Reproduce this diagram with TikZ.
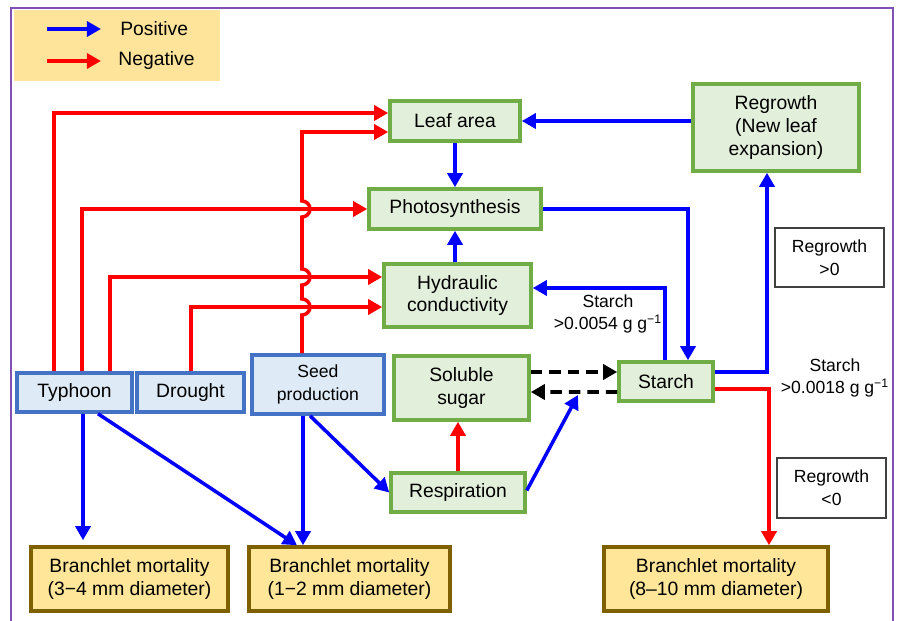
\documentclass[tikz,border=0pt]{standalone}
\usepackage{fontspec}
\setmainfont{Liberation Sans}
\usetikzlibrary{arrows.meta,calc}

\definecolor{procline}{HTML}{70AD47}
\definecolor{procfill}{HTML}{E2EFDA}
\definecolor{drvline}{HTML}{4472C4}
\definecolor{drvfill}{HTML}{DEEBF7}
\definecolor{mortline}{HTML}{7F6000}
\definecolor{mortfill}{HTML}{FFE699}
\definecolor{legendfill}{HTML}{FEE49B}
\definecolor{framecol}{HTML}{8050B4}

\begin{document}
\begin{tikzpicture}[
    x=0.02cm,
    y=-0.02cm,
    >={Triangle[length=8pt,width=8.5pt]},
    box/.style={
      draw,
      line width=2pt,
      align=center,
      inner sep=2pt,
      font=\fontsize{11}{13}\selectfont
    },
    process/.style={box,draw=procline,fill=procfill},
    driver/.style={box,draw=drvline,fill=drvfill},
    mortality/.style={box,draw=mortline,fill=mortfill},
    condition/.style={
      draw=black!75,
      line width=0.8pt,
      align=center,
      font=\fontsize{10}{13}\selectfont
    },
    note/.style={
      align=center,
      inner sep=0pt,
      font=\fontsize{10}{13}\selectfont
    },
    posflow/.style={->,draw=blue,line width=2pt},
    negflow/.style={->,draw=red,line width=2pt},
    feedback/.style={->,line width=2pt,dash pattern=on 6.5pt off 4pt}
  ]
    \useasboundingbox (0,0) rectangle (903,621);
    \draw[framecol,line width=1.3pt] (11,621) -- (11,8) -- (893,8) -- (893,621);

    % legend
    \fill[legendfill] (14,10) rectangle (220,81);
    \coordinate (posa) at (47,29);
    \coordinate (posb) at (101,29);
    \coordinate (nega) at (47,61);
    \coordinate (negb) at (101,61);
    \node[anchor=west,inner sep=0pt,font=\fontsize{11}{13}\selectfont] (poslabel) at (120,29) {Positive};
    \node[anchor=west,inner sep=0pt,font=\fontsize{11}{13}\selectfont] (neglabel) at (118,61) {Negative};
    \draw[posflow] (posa) -- (posb);
    \draw[negflow] (nega) -- (negb);

    \foreach \n/\x/\y/\w/\h/\txt in {leaf/455/121/130/40/{Leaf area},
        photo/455/209/172/40/Photosynthesis,
        hydr/457.5/295.5/147/63/{Hydraulic\\conductivity},
        regrow/776/127.5/166/87/{Regrowth\\(New leaf\\expansion)},
        sugar/461.5/388/135/64/{Soluble\\sugar},
        resp/458/492.5/134/39/Respiration,
        starch/666/381.5/94/39/Starch}
      \node[process,minimum width=\w*0.02cm,minimum height=\h*0.02cm] (\n) at (\x,\y) {\txt};

    \foreach \n/\x/\w/\txt in {typhoon/74.5/115/Typhoon,drought/190.5/107/Drought}
      \node[driver,minimum width=\w*0.02cm,minimum height=39*0.02cm] (\n) at (\x,392.5) {\txt};
    \node[driver,minimum width=132*0.02cm,minimum height=59*0.02cm,
      font=\fontsize{10}{13}\selectfont] (seed) at (318,384.5) {Seed\\production};

    \foreach \n/\x/\w/\txt in {mortsmall/129.5/197/{Branchlet mortality\\(3−4 mm diameter)},
        mortfine/349.5/201/{Branchlet mortality\\(1−2 mm diameter)},
        mortlarge/716/224/{Branchlet mortality\\(8–10 mm diameter)}}
      \node[mortality,minimum width=\w*0.02cm,minimum height=64*0.02cm] (\n) at (\x,579) {\txt};

    \node[condition,minimum width=109*0.02cm,minimum height=59*0.02cm] (rgpos) at (829.5,257.5) {Regrowth\\>0};
    \node[condition,minimum width=109*0.02cm,minimum height=60*0.02cm] (rgneg) at (831.5,488) {Regrowth\\<0};
    \node[note] (thrhydr) at (608,314) {Starch\\>0.0054 g g\textsuperscript{−1}};
    \node[note] (thrgrow) at (835,378) {Starch\\>0.0018 g g\textsuperscript{−1}};

    % negative effects
    \draw[negflow] ($(typhoon.north)+(-20.5,0)$) |- ($(leaf.west)+(0,-8)$);
    \draw[negflow] ($(typhoon.north)+(7.5,0)$) |- (photo.west);
    \draw[negflow] ($(typhoon.north)+(35.5,0)$) |- ($(hydr.west)+(0,-18.5)$);
    \draw[negflow] ($(drought.north)+(0.5,0)$) |- ($(hydr.west)+(0,11.5)$);
    \draw[negflow] ($(seed.north)+(-16,0)$) -- (302,315)
      arc[start angle=-90,end angle=90,radius=0.16cm] -- (302,285)
      arc[start angle=-90,end angle=90,radius=0.16cm] -- (302,217)
      arc[start angle=-90,end angle=90,radius=0.16cm] -- (302,132)
      -- ($(leaf.west)+(0,11)$);
    \draw[negflow] (resp.north) -- (resp.north |- sugar.south);
    \draw[negflow] ($(starch.east)+(0,7.5)$) -| ($(mortlarge.north)+(53,0)$);

    % positive effects
    \draw[posflow] (leaf.south) -- (photo.north);
    \draw[posflow] (photo.south |- hydr.north) -- (photo.south);
    \draw[posflow] (regrow.west |- leaf.east) -- (leaf.east);
    \draw[posflow] (photo.east) -| ($(starch.north)+(22,0)$);
    \draw[posflow] ($(starch.north)+(-1,0)$) |- ($(hydr.east)+(0,-7.5)$);
    \draw[posflow] ($(starch.east)+(0,-9.5)$) -| ($(regrow.south)+(-9,0)$);
    \coordinate (resptip) at (578,395);
    \draw[posflow] ($(resp.east)+(0,-2)$) -- (resptip);
    \draw[posflow] ($(seed.south)+(-8,0)$) -- (resp.west);
    \draw[posflow] ($(seed.south)+(-15,0)$) -- ($(mortfine.north)+(-46.5,0)$);
    \draw[posflow] ($(typhoon.south)+(8.5,0)$) -- ($(mortsmall.north)+(-46.5,-5)$);
    \draw[posflow] ($(typhoon.south)+(23.5,0)$) -- ($(mortfine.north)+(-52.5,0)$);

    % starch and sugar exchange
    \draw[feedback] ($(sugar.east)+(0,-16)$) -- ($(starch.west)+(0,-9.5)$);
    \draw[feedback] ($(starch.west)+(0,10.5)$) -- ($(sugar.east)+(0,4)$);
\end{tikzpicture}
\end{document}
